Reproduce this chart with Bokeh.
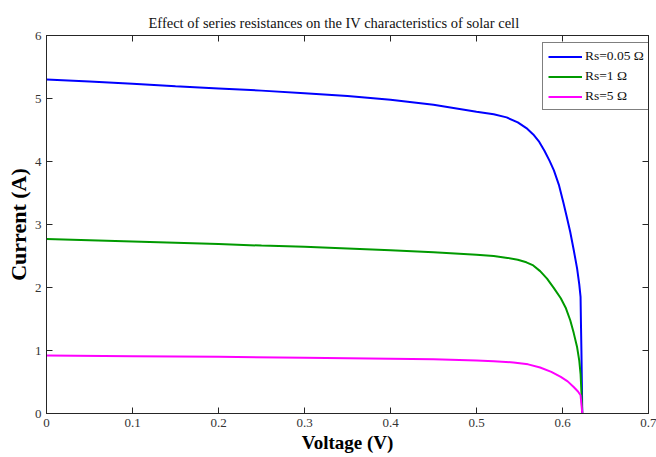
from bokeh.plotting import figure
from bokeh.models import LinearAxis, FixedTicker, Legend, LegendItem, Range1d
from bokeh.embed import file_html
from bokeh.resources import INLINE

# ---- data ----
title_text = "Effect of series resistances on the IV characteristics of solar cell"
x_label = "Voltage (V)"
y_label = "Current (A)"

x_ticks = [0, 0.1, 0.2, 0.3, 0.4, 0.5, 0.6, 0.7]
x_tick_labels = ["0", "0.1", "0.2", "0.3", "0.4", "0.5", "0.6", "0.7"]
y_ticks = [0, 1, 2, 3, 4, 5, 6]
y_tick_labels = ["0", "1", "2", "3", "4", "5", "6"]

series_names = ["Rs=0.05 \u03a9", "Rs=1 \u03a9", "Rs=5 \u03a9"]

v_rs005 = [0, 0.05, 0.10, 0.15, 0.20, 0.25, 0.30, 0.35, 0.40, 0.45, 0.50, 0.52, 0.535,
           0.548, 0.558, 0.566, 0.573, 0.579, 0.585, 0.590, 0.596, 0.601, 0.605, 0.609,
           0.613, 0.617, 0.6195, 0.621, 0.6215, 0.622, 0.6225, 0.623]
i_rs005 = [5.30, 5.27, 5.235, 5.195, 5.16, 5.125, 5.085, 5.04, 4.98, 4.90, 4.79, 4.75, 4.70,
           4.62, 4.53, 4.43, 4.31, 4.17, 4.01, 3.86, 3.62, 3.35, 3.12, 2.88,
           2.60, 2.30, 2.05, 1.85, 1.40, 1.00, 0.50, 0.0]

v_rs1 = [0, 0.05, 0.10, 0.15, 0.20, 0.25, 0.30, 0.35, 0.40, 0.45, 0.50, 0.52, 0.536,
         0.548, 0.558, 0.566, 0.574, 0.582, 0.590, 0.598, 0.604, 0.609, 0.613, 0.617,
         0.6195, 0.621, 0.622, 0.623]
i_rs1 = [2.77, 2.75, 2.73, 2.71, 2.69, 2.665, 2.645, 2.62, 2.59, 2.56, 2.52, 2.50, 2.47,
         2.44, 2.40, 2.35, 2.26, 2.14, 1.99, 1.83, 1.67, 1.48, 1.28, 1.05,
         0.84, 0.63, 0.35, 0.0]

v_rs5 = [0, 0.10, 0.20, 0.30, 0.40, 0.45, 0.50, 0.52, 0.543, 0.560, 0.574, 0.587, 0.598,
         0.606, 0.613, 0.618, 0.621, 0.622, 0.623]
i_rs5 = [0.92, 0.91, 0.90, 0.885, 0.87, 0.86, 0.84, 0.83, 0.81, 0.78, 0.73, 0.66, 0.58,
         0.51, 0.42, 0.35, 0.29, 0.15, 0.0]

colors = ["#0000ff", "#009a00", "#ff00ff"]

SERIF = "Liberation Serif"
AX_COLOR = "#262626"

p = figure(width=656, height=457, x_range=Range1d(0, 0.7), y_range=Range1d(0, 6),
           output_backend="svg", toolbar_location=None,
           min_border_left=46, min_border_right=8, min_border_top=35, min_border_bottom=44,
           background_fill_color="white", border_fill_color="white")

p.outline_line_color = AX_COLOR
p.outline_line_width = 1
p.xgrid.visible = False
p.ygrid.visible = False

# title
p.title.text = title_text
p.title.text_font = SERIF
p.title.text_font_style = "normal"
p.title.text_font_size = "14.5px"
p.title.text_color = "#111111"
p.title.align = "left"
p.title.offset = 102
p.title.standoff = 10

def style_axis(ax, ticks, labels, show_labels=True):
    ax.ticker = FixedTicker(ticks=ticks)
    ax.minor_tick_line_color = None
    ax.major_tick_in = 6
    ax.major_tick_out = 0
    ax.axis_line_color = AX_COLOR
    ax.major_tick_line_color = AX_COLOR
    if show_labels:
        ax.major_label_overrides = {t: l for t, l in zip(ticks, labels)}
        ax.major_label_text_font = SERIF
        ax.major_label_text_font_size = "13px"
        ax.major_label_text_color = "#333333"
    else:
        ax.major_label_overrides = {t: "" for t in ticks}
        ax.major_label_text_font_size = "0px"
        ax.major_label_standoff = 0

xa = p.xaxis[0]
style_axis(xa, x_ticks, x_tick_labels)
xa.major_label_standoff = 5
xa.axis_label = x_label
xa.axis_label_text_font = SERIF
xa.axis_label_text_font_style = "bold"
xa.axis_label_text_font_size = "19px"
xa.axis_label_text_color = "#000000"
xa.axis_label_standoff = 2

ya = p.yaxis[0]
style_axis(ya, y_ticks, y_tick_labels)
ya.major_label_standoff = 5
ya.axis_label = y_label
ya.axis_label_text_font = SERIF
ya.axis_label_text_font_style = "bold"
ya.axis_label_text_font_size = "22px"
ya.axis_label_text_color = "#000000"
ya.axis_label_standoff = 1

top_ax = LinearAxis()
style_axis(top_ax, x_ticks, x_tick_labels, show_labels=False)
p.add_layout(top_ax, "above")
right_ax = LinearAxis()
style_axis(right_ax, y_ticks, y_tick_labels, show_labels=False)
p.add_layout(right_ax, "right")

r1 = p.line(v_rs005, i_rs005, line_color=colors[0], line_width=2)
r2 = p.line(v_rs1, i_rs1, line_color=colors[1], line_width=2)
r3 = p.line(v_rs5, i_rs5, line_color=colors[2], line_width=2)

legend = Legend(items=[LegendItem(label=series_names[0], renderers=[r1]),
                       LegendItem(label=series_names[1], renderers=[r2]),
                       LegendItem(label=series_names[2], renderers=[r3])],
                location=(496, 303))
legend.border_line_color = "#000000"
legend.border_line_width = 1
legend.background_fill_color = "white"
legend.background_fill_alpha = 1
legend.label_text_font = SERIF
legend.label_text_font_size = "13.5px"
legend.label_text_color = "#111111"
legend.glyph_width = 34
legend.glyph_height = 15
legend.label_height = 15
legend.label_standoff = 3
legend.spacing = 4
legend.padding = 5
legend.margin = 0
p.add_layout(legend, "center")

open("out.html", "w").write(file_html(p, INLINE))
